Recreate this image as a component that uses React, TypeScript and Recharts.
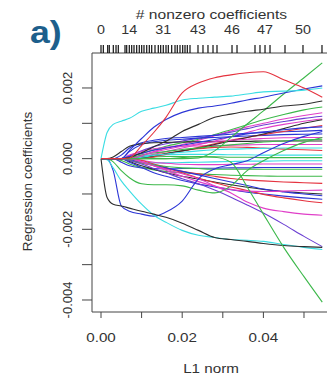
import React from "react";
import { LineChart, Line, XAxis, YAxis } from "recharts";

// ---- data -------------------------------------------------------------
const l1Norm = [0, 0.0015, 0.003, 0.005, 0.007, 0.01, 0.013, 0.016, 0.02, 0.024, 0.028, 0.032, 0.036, 0.04, 0.045, 0.05, 0.0545];

// main, clearly visible paths
const cyanUp = [0, 0.00074, 0.00097, 0.00106, 0.00114, 0.00134, 0.00143, 0.00151, 0.00166, 0.00171, 0.00174, 0.00177, 0.00183, 0.00189, 0.00191, 0.00194, 0.002];
const redHump = [0, 0, 0, 0, 0.00002, 0.00037, 0.00074, 0.00117, 0.00186, 0.00214, 0.00229, 0.00237, 0.00243, 0.00246, 0.00223, 0.002, 0.00174];
const blueUp = [0, 0, 0, 0, 0.00023, 0.00057, 0.00089, 0.00111, 0.00131, 0.00143, 0.00149, 0.00157, 0.00166, 0.00174, 0.00186, 0.00197, 0.00206];
const blackUp = [0, 0, 0, 0, 0.00003, 0.00017, 0.00034, 0.00049, 0.00077, 0.00097, 0.00117, 0.00126, 0.00134, 0.0014, 0.00149, 0.00154, 0.00163];
const greenUp = [0, 0, 0, 0, 0, 0, 0, 0, 0, 0.00002, 0.00022, 0.0006, 0.00098, 0.00135, 0.00183, 0.00229, 0.00271];
const greenBend = [0, 0, -0.00009, -0.00034, -0.00054, -0.00071, -0.00074, -0.00074, -0.00077, -0.00089, -0.00097, -0.00077, -0.00034, -0.00006, 0.00023, 0.00046, 0.0006];
const greenDown = [0, 0, 0, 0, 0, 0, 0, 0, 0.00003, 0.00006, 0.00004, -0.0001, -0.0008, -0.00157, -0.00251, -0.00334, -0.00406];
const blackDown = [0, -0.0011, -0.00129, -0.00134, -0.0014, -0.00149, -0.00157, -0.00166, -0.00183, -0.00203, -0.00223, -0.00229, -0.00234, -0.0024, -0.00246, -0.00249, -0.00251];
const cyanDown = [0, -0.00003, -0.00026, -0.00063, -0.00091, -0.00129, -0.0016, -0.0018, -0.00203, -0.00217, -0.00223, -0.00229, -0.00231, -0.00234, -0.00243, -0.00251, -0.00257];
const blueDip = [0, 0, -0.00034, -0.00134, -0.00149, -0.00157, -0.00163, -0.00151, -0.0012, -0.00057, -0.00029, -0.00017, -0.00006, 0.00017, 0.00043, 0.00063, 0.00077];
const purpleDown = [0, 0, 0, 0, -0.00005, -0.00015, -0.00028, -0.0004, -0.00057, -0.00071, -0.00089, -0.00109, -0.00131, -0.00154, -0.00186, -0.0022, -0.00249];
const magentaDown = [0, 0, 0, 0, 0, -0.0001, -0.0002, -0.0003, -0.00043, -0.00057, -0.00077, -0.00097, -0.00123, -0.0014, -0.0015, -0.00157, -0.0016];

// bundle of smaller paths (positive side)
const bundleP01 = [0, 0, 0, 0, 0.00005, 0.00015, 0.00025, 0.00035, 0.00045, 0.00055, 0.00068, 0.00082, 0.00096, 0.0011, 0.00125, 0.00138, 0.00146];
const bundleP02 = [0, 0, 0, 0, 0, 0.0001, 0.0002, 0.0003, 0.0004, 0.00052, 0.00065, 0.00078, 0.0009, 0.001, 0.00112, 0.00122, 0.0013];
const bundleP03 = [0, 0, 0, 0, 0.00008, 0.00022, 0.00034, 0.00042, 0.0005, 0.00058, 0.00066, 0.00075, 0.00085, 0.00095, 0.00105, 0.00114, 0.0012];
const bundleP04 = [0, 0, 0, 0, 0, 0.00005, 0.00012, 0.0002, 0.0003, 0.0004, 0.0005, 0.00062, 0.00074, 0.00086, 0.00097, 0.00106, 0.00112];
const bundleP05 = [0, 0, 0, 0.0001, 0.0003, 0.00045, 0.00052, 0.00057, 0.0006, 0.00063, 0.00066, 0.00069, 0.00072, 0.00074, 0.00076, 0.00078, 0.0008];
const bundleP06 = [0, 0, 0, 0, 0.0002, 0.0004, 0.00048, 0.00052, 0.00055, 0.00058, 0.0006, 0.00062, 0.00064, 0.00066, 0.00068, 0.00069, 0.0007];
const bundleP07 = [0, 0, 0.00005, 0.0002, 0.00035, 0.00042, 0.00045, 0.00046, 0.00047, 0.00048, 0.00048, 0.00049, 0.00049, 0.0005, 0.0005, 0.0005, 0.0005];
const bundleP08 = [0, 0, 0, 0, 0.0001, 0.0002, 0.00028, 0.00032, 0.00035, 0.00036, 0.00037, 0.00038, 0.00039, 0.0004, 0.0004, 0.0004, 0.0004];
const bundleP09 = [0, 0, 0, 0, 0, 0.00005, 0.0001, 0.00015, 0.00022, 0.00028, 0.00032, 0.00033, 0.00032, 0.0003, 0.00027, 0.00025, 0.00023];
const bundleP10 = [0, 0, 0, 0, 0.00004, 0.00008, 0.0001, 0.00011, 0.00012, 0.00012, 0.00012, 0.00011, 0.00011, 0.0001, 0.0001, 0.0001, 0.0001];
const bundleP11 = [0, 0, 0, 0, 0, 0.00003, 0.00005, 0.00006, 0.00006, 0.00005, 0.00005, 0.00004, 0.00004, 0.00003, 0.00003, 0.00003, 0.00003];
const bundleP12 = [0, 0, 0, 0, 0, 0, 0.00005, 0.00012, 0.00022, 0.00032, 0.00042, 0.00052, 0.0006, 0.00068, 0.00077, 0.00086, 0.00094];
const bundleP13 = [0, 0, 0, 0, 0, 0.00003, 0.00008, 0.00014, 0.00022, 0.0003, 0.0004, 0.0005, 0.0006, 0.0007, 0.00085, 0.001, 0.0011];
const bundleP14 = [0, 0, 0, 0, 0.00006, 0.00015, 0.00024, 0.0003, 0.00038, 0.00046, 0.00054, 0.00062, 0.0007, 0.00076, 0.00082, 0.00087, 0.0009];
const bundleP15 = [0, 0, 0, 0, 0.00003, 0.0001, 0.00016, 0.0002, 0.00026, 0.0003, 0.00035, 0.00039, 0.00043, 0.00047, 0.0005, 0.00053, 0.00055];
const bundleP16 = [0, 0, 0, 0, 0, 0.00004, 0.00009, 0.00013, 0.00018, 0.00022, 0.00025, 0.00027, 0.00028, 0.00029, 0.0003, 0.0003, 0.0003];
const bundleP17 = [0, 0, 0, 0, 0, 0.00008, 0.00018, 0.00026, 0.00035, 0.00042, 0.00048, 0.00052, 0.00055, 0.00057, 0.00059, 0.0006, 0.0006];

// bundle of smaller paths (negative side)
const bundleN01 = [0, 0, 0, 0, -0.00005, -0.0001, -0.00012, -0.00012, -0.00011, -0.0001, -0.00009, -0.00008, -0.00007, -0.00007, -0.00006, -0.00006, -0.00006];
const bundleN02 = [0, 0, 0, 0, 0, -0.00005, -0.0001, -0.00013, -0.00016, -0.00017, -0.00017, -0.00016, -0.00016, -0.00015, -0.00015, -0.00015, -0.00015];
const bundleN03 = [0, 0, 0, -0.0001, -0.0002, -0.00026, -0.00028, -0.00029, -0.00028, -0.00027, -0.00027, -0.00026, -0.00026, -0.00025, -0.00025, -0.00025, -0.00025];
const bundleN04 = [0, 0, 0, -0.00005, -0.00015, -0.00025, -0.00032, -0.00036, -0.0004, -0.00043, -0.00045, -0.00047, -0.00048, -0.00049, -0.0005, -0.0005, -0.0005];
const bundleN05 = [0, 0, 0, 0, -0.00005, -0.00012, -0.0002, -0.00028, -0.00036, -0.00043, -0.0005, -0.00056, -0.0006, -0.00063, -0.00066, -0.00068, -0.0007];
const bundleN06 = [0, 0, 0, 0, -0.00008, -0.0002, -0.0003, -0.0004, -0.0005, -0.00058, -0.00066, -0.00074, -0.00081, -0.00087, -0.00093, -0.00097, -0.001];
const bundleN07 = [0, 0, 0, 0, -0.0001, -0.00025, -0.0004, -0.0005, -0.00062, -0.00072, -0.0008, -0.00088, -0.00095, -0.001, -0.00106, -0.00111, -0.00115];
const bundleN08 = [0, 0, 0, 0, 0, -0.00005, -0.00015, -0.00025, -0.0004, -0.00055, -0.00068, -0.0008, -0.0009, -0.00101, -0.00111, -0.00119, -0.00125];
const bundleN09 = [0, 0, 0, 0, -0.00003, -0.0001, -0.00018, -0.00026, -0.00036, -0.00046, -0.00056, -0.00066, -0.00076, -0.00086, -0.00094, -0.001, -0.00105];
const bundleN10 = [0, 0, 0, 0, 0, -0.00008, -0.0002, -0.00033, -0.0005, -0.00065, -0.00078, -0.00087, -0.00092, -0.00093, -0.00092, -0.0009, -0.00089];
const bundleN11 = [0, 0, 0, 0, -0.00005, -0.00012, -0.00018, -0.00022, -0.00026, -0.00028, -0.0003, -0.0003, -0.0003, -0.0003, -0.0003, -0.0003, -0.0003];

const coefPaths = [
  bundleP01, bundleP02, bundleP03, bundleP04, bundleP05, bundleP06, bundleP07, bundleP08, bundleP09,
  bundleP10, bundleP11, bundleP12, bundleP13, bundleP14, bundleP15, bundleP16, bundleP17,
  bundleN01, bundleN02, bundleN03, bundleN04, bundleN05, bundleN06, bundleN07, bundleN08, bundleN09,
  bundleN10, bundleN11,
  purpleDown, magentaDown, greenBend, blueDip, cyanDown, blackDown, greenDown, greenUp,
  blackUp, blueUp, cyanUp, redHump,
];

// top axis: positions of the steps (rug) and "# nonzero coefficients" labels
const stepMarks = [0, 0.00057, 0.00165, 0.00204, 0.00303, 0.0037, 0.00426, 0.00591, 0.00633, 0.00697, 0.00756, 0.00813, 0.00879, 0.00943, 0.01002, 0.01059, 0.01126, 0.0119, 0.01249, 0.0133, 0.01411, 0.0147, 0.01534, 0.01601, 0.01658, 0.01741, 0.01823, 0.01879, 0.01946, 0.02012, 0.02069, 0.02126, 0.02192, 0.02389, 0.02512, 0.02635, 0.02759, 0.02857, 0.03227, 0.0335, 0.03793, 0.03916, 0.0404, 0.04163, 0.04532, 0.04975, 0.05443];
const dfLabelAt = [0, 0.00697, 0.01534, 0.02389, 0.03227, 0.0404, 0.04975];
const dfLabels = ["0", "14", "31", "43", "46", "47", "50"];

// bottom and left axes
const xTickAt = [0, 0.01, 0.02, 0.03, 0.04, 0.05];
const xLabelAt = [0, 0.02, 0.04];
const xLabels = ["0.00", "0.02", "0.04"];
const yTickAt = [0.002, 0.001, 0, -0.001, -0.002, -0.003, -0.004];
const yLabelAt = [0.002, 0, -0.002, -0.004];
const yLabels = ["0.002", "0.000", "-0.002", "-0.004"];

// ---- styles -----------------------------------------------------------
const BLACK = "#2e2e2e";
const RED = "#e5333f";
const GREEN = "#3cb84a";
const BLUE = "#2b35d6";
const CYAN = "#3adde3";
const MAGENTA = "#e03fc8";
const PURPLE = "#6b3fd2";
const pathColors = [
  GREEN, MAGENTA, PURPLE, MAGENTA, BLUE, BLUE, BLACK, MAGENTA, RED,
  CYAN, GREEN, RED, BLACK, BLUE, GREEN, CYAN, MAGENTA,
  CYAN, MAGENTA, BLUE, GREEN, RED, BLACK, BLUE, RED, BLUE,
  MAGENTA, GREEN,
  PURPLE, MAGENTA, GREEN, BLUE, CYAN, BLACK, GREEN, GREEN,
  BLACK, BLUE, CYAN, RED,
];

const FONT = "'Liberation Sans', Arial, Helvetica, sans-serif";
const TXT = "#333";
const AXIS = "#444";
const X_DOMAIN: [number, number] = [-0.002217, 0.056404];
const Y_DOMAIN: [number, number] = [-0.00434, 0.00299];

const rows = l1Norm.map((x, i) => {
  const row: Record<string, number> = { x };
  coefPaths.forEach((p, j) => {
    row[`c${j}`] = p[i];
  });
  return row;
});

const near = (a: number, b: number) => Math.abs(a - b) < 1e-7;

function TopTick(props: any) {
  const { x, payload } = props;
  const idx = dfLabelAt.findIndex((v) => near(v, payload.value));
  return (
    <g>
      <line x1={x} x2={x} y1={45} y2={53} stroke="#111" strokeWidth={1.2} />
      {idx >= 0 && (
        <text
          transform={`translate(${x},34) scale(1.1,1)`}
          textAnchor="middle"
          fontSize={13}
          fontFamily={FONT}
          fill={TXT}
        >
          {dfLabels[idx]}
        </text>
      )}
    </g>
  );
}

function BottomTick(props: any) {
  const { x, payload } = props;
  const idx = xLabelAt.findIndex((v) => near(v, payload.value));
  if (idx < 0) return <g />;
  return (
    <text
      transform={`translate(${x},342) scale(1.17,1)`}
      textAnchor="middle"
      fontSize={13}
      fontFamily={FONT}
      fill={TXT}
    >
      {xLabels[idx]}
    </text>
  );
}

function LeftTick(props: any) {
  const { y, payload } = props;
  const idx = yLabelAt.findIndex((v) => near(v, payload.value));
  if (idx < 0) return <g />;
  return (
    <text
      transform={`translate(71.5,${y}) rotate(-90)`}
      textAnchor="middle"
      fontSize={13}
      fontFamily={FONT}
      fill={TXT}
    >
      {yLabels[idx]}
    </text>
  );
}

export default function App() {
  return (
    <div style={{ position: "absolute", left: 0, top: 0, width: 327, height: 378, overflow: "hidden", background: "#fff" }}>
      <LineChart width={340} height={378} data={rows} margin={{ top: 0, right: 10, bottom: 0, left: 0 }}>
        <XAxis
          xAxisId="bottom"
          dataKey="x"
          type="number"
          domain={X_DOMAIN}
          allowDataOverflow
          ticks={xTickAt}
          interval={0}
          height={66}
          tickSize={6}
          axisLine={{ stroke: AXIS }}
          tickLine={{ stroke: AXIS }}
          tick={(p: any) => <BottomTick {...p} />}
        />
        <XAxis
          xAxisId="top"
          orientation="top"
          dataKey="x"
          type="number"
          domain={X_DOMAIN}
          allowDataOverflow
          ticks={stepMarks}
          interval={0}
          height={53}
          tickLine={false}
          axisLine={{ stroke: AXIS }}
          tick={(p: any) => <TopTick {...p} />}
        />
        <YAxis
          yAxisId="left"
          type="number"
          domain={Y_DOMAIN}
          allowDataOverflow
          ticks={yTickAt}
          interval={0}
          width={92}
          tickSize={10}
          axisLine={{ stroke: AXIS }}
          tickLine={{ stroke: AXIS }}
          tick={(p: any) => <LeftTick {...p} />}
        />
        {coefPaths.map((_, j) => (
          <Line
            key={j}
            xAxisId="bottom"
            yAxisId="left"
            type="monotone"
            dataKey={`c${j}`}
            stroke={pathColors[j]}
            strokeWidth={1.1}
            dot={false}
            activeDot={false}
            isAnimationActive={false}
          />
        ))}
      </LineChart>
      <svg width={327} height={378} style={{ position: "absolute", left: 0, top: 0, pointerEvents: "none" }}>
        <text transform="translate(30,43) scale(1.15,1)" fontSize={31} fontWeight="bold" fontFamily={FONT} fill="#1d5f8c">
          a)
        </text>
        <text transform="translate(211.5,18.5) scale(1.2,1)" textAnchor="middle" fontSize={13} fontFamily={FONT} fill={TXT}>
          # nonzero coefficients
        </text>
        <text transform="translate(211,373) scale(1.17,1)" textAnchor="middle" fontSize={13} fontFamily={FONT} fill={TXT}>
          L1 norm
        </text>
        <text transform="translate(32,181.5) rotate(-90)" textAnchor="middle" fontSize={13.5} fontFamily={FONT} fill={TXT}>
          Regression coefficients
        </text>
      </svg>
    </div>
  );
}
